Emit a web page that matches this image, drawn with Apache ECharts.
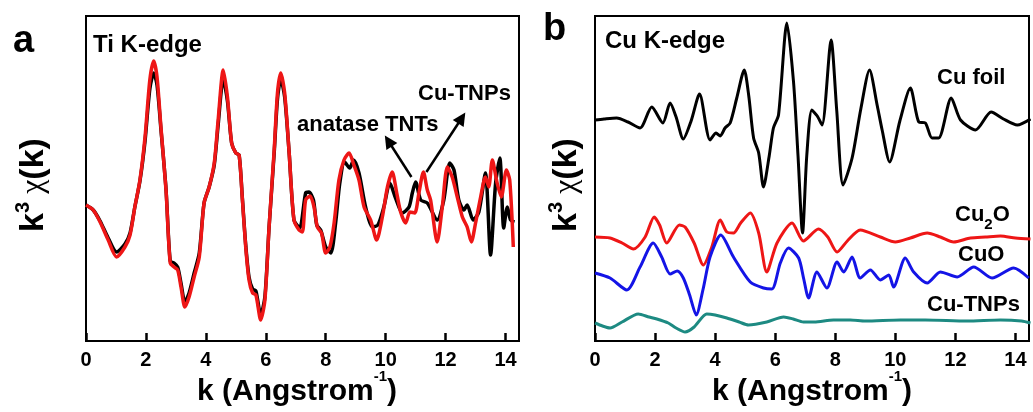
<!DOCTYPE html>
<html>
<head>
<meta charset="utf-8">
<script src="https://cdn.jsdelivr.net/npm/echarts@6.0.0/dist/echarts.min.js"></script>
<style>
html, body { margin: 0; padding: 0; background: #fff; }
#chart { width: 1033px; height: 412px; }
</style>
</head>
<body>
<div id="chart"></div>
<script>
// panel a: Ti K-edge, k3 chi(k) in arbitrary units
const tiTntK = [0, 0.24, 0.47, 0.74, 1.02, 1.3, 1.47, 1.63, 1.8, 1.97, 2.13, 2.26, 2.37, 2.5, 2.67, 2.81, 2.94, 3.06, 3.17, 3.3, 3.44, 3.61, 3.78, 3.94, 4.11, 4.28, 4.41, 4.58, 4.72, 4.86, 5.0, 5.11, 5.22, 5.33, 5.44, 5.56, 5.67, 5.83, 5.97, 6.11, 6.28, 6.39, 6.5, 6.63, 6.78, 6.94, 7.13, 7.33, 7.44, 7.59, 7.7, 7.83, 8.0, 8.17, 8.33, 8.47, 8.63, 8.8, 8.93, 9.11, 9.33, 9.56, 9.74, 9.94, 10.14, 10.33, 10.56, 10.78, 10.89, 11.0, 11.17, 11.39, 11.72, 11.94, 12.14, 12.28, 12.44, 12.61, 12.72, 12.92, 13.11, 13.33, 13.5, 13.67, 13.81, 13.94, 14.06, 14.17, 14.3]
const tiTntV = [136, 131, 120, 103, 89, 97, 108, 134, 160, 200, 252, 268, 256, 212, 152, 80, 78, 74, 58, 39, 48, 68, 88, 138, 154, 176, 216, 262, 240, 198, 188, 186, 142, 96, 64, 52, 50, 26, 44, 114, 188, 242, 262, 244, 188, 121, 113, 148, 149, 141, 116, 111, 94, 88, 118, 158, 179, 173, 181, 168, 134, 114, 116, 134, 158, 143, 128, 134, 148, 159, 141, 138, 121, 141, 178, 171, 141, 131, 136, 121, 129, 168, 86, 158, 183, 113, 134, 121, 119]

const tiCuK = [0, 0.24, 0.47, 0.74, 1.02, 1.3, 1.47, 1.63, 1.8, 1.97, 2.13, 2.26, 2.37, 2.5, 2.67, 2.81, 2.94, 3.06, 3.17, 3.3, 3.44, 3.61, 3.78, 3.94, 4.11, 4.28, 4.41, 4.58, 4.72, 4.86, 5.0, 5.11, 5.22, 5.33, 5.44, 5.56, 5.67, 5.83, 5.97, 6.11, 6.28, 6.39, 6.5, 6.63, 6.78, 6.94, 7.11, 7.22, 7.33, 7.48, 7.61, 7.72, 7.86, 8.0, 8.14, 8.28, 8.44, 8.61, 8.78, 8.94, 9.11, 9.28, 9.5, 9.7, 9.89, 10.06, 10.22, 10.37, 10.5, 10.67, 10.81, 10.97, 11.11, 11.26, 11.39, 11.5, 11.72, 11.89, 12.06, 12.22, 12.39, 12.56, 12.72, 12.86, 13.0, 13.17, 13.33, 13.44, 13.56, 13.72, 13.86, 14.03, 14.14, 14.26]
const tiCuV = [136, 131, 119, 101, 84, 94, 106, 134, 161, 204, 261, 280, 264, 214, 151, 78, 74, 71, 54, 34, 44, 64, 84, 138, 154, 178, 221, 271, 244, 198, 188, 186, 141, 94, 61, 48, 46, 21, 41, 114, 191, 248, 268, 248, 188, 121, 111, 109, 141, 145, 134, 114, 108, 88, 94, 118, 161, 181, 188, 176, 161, 134, 121, 101, 124, 154, 169, 148, 129, 118, 129, 128, 148, 169, 151, 141, 99, 134, 174, 164, 144, 124, 114, 99, 118, 144, 164, 154, 181, 158, 144, 171, 161, 94]

// panel b: Cu K-edge, curves offset vertically
const cuFoilK = [0, 0.3, 0.72, 1.1, 1.5, 1.89, 2.26, 2.5, 2.7, 2.94, 3.2, 3.48, 3.83, 4.03, 4.17, 4.33, 4.5, 4.72, 4.97, 5.12, 5.28, 5.45, 5.61, 5.8, 5.94, 6.11, 6.39, 6.61, 6.76, 6.91, 7.05, 7.22, 7.4, 7.56, 7.86, 8.05, 8.26, 8.56, 8.85, 9.14, 9.4, 9.56, 9.81, 10.15, 10.5, 10.78, 11.0, 11.22, 11.44, 11.86, 12.17, 12.67, 13.19, 13.6, 14.06, 14.5]
const cuFoilV = [221, 222, 223, 219, 213, 234, 218, 238, 224, 202, 220, 247, 201, 208, 205, 213, 218, 243, 271, 245, 203, 188, 154, 185, 213, 226, 318, 259, 185, 108, 185, 231, 225, 216, 301, 230, 156, 183, 232, 271, 235, 211, 179, 220, 253, 219, 218, 203, 203, 243, 221, 211, 229, 222, 216, 222]

const cu2oK = [0, 0.5, 0.9, 1.28, 1.67, 1.97, 2.15, 2.39, 2.81, 3.0, 3.3, 3.61, 3.89, 4.17, 4.39, 4.61, 4.85, 5.17, 5.45, 5.72, 6.06, 6.56, 6.94, 7.44, 7.75, 8.06, 8.4, 8.83, 9.5, 10.0, 10.5, 11.06, 11.5, 11.94, 12.5, 13.0, 13.5, 14.0, 14.5]
const cu2oV = [104, 103, 98, 92, 104, 124, 116, 98, 116, 114, 98, 76, 94, 121, 109, 108, 118, 128, 108, 69, 98, 118, 100, 112, 104, 89, 100, 111, 104, 99, 103, 108, 104, 99, 103, 104, 105, 103, 102]

const cuoK = [0, 0.5, 1.06, 1.5, 1.94, 2.22, 2.5, 2.74, 2.94, 3.15, 3.37, 3.6, 3.83, 4.19, 4.61, 5.17, 5.61, 5.89, 6.17, 6.44, 6.78, 6.95, 7.11, 7.39, 7.72, 8.06, 8.28, 8.56, 8.83, 9.17, 9.5, 9.78, 9.94, 10.33, 10.61, 11.06, 11.5, 12.06, 12.61, 13.22, 13.94, 14.44]
const cuoV = [68, 63, 51, 74, 98, 84, 67, 70, 63, 46, 26, 52, 84, 106, 84, 59, 53, 52, 78, 93, 83, 62, 43, 69, 53, 79, 69, 84, 63, 71, 61, 66, 54, 83, 69, 58, 69, 64, 74, 63, 73, 63]

const cuTnpK = [0, 0.25, 0.5, 0.9, 1.44, 1.8, 2.06, 2.44, 2.7, 3.0, 3.3, 3.72, 4.0, 4.39, 4.8, 5.11, 5.72, 6.28, 6.6, 6.94, 7.3, 7.94, 8.5, 9.0, 10.17, 11.0, 12.39, 13.5, 14.2, 14.5]
const cuTnpV = [18, 15, 13, 19, 27, 24, 22, 18, 13, 9, 14, 27, 26, 23, 19, 16, 19, 24, 22, 19, 19, 21, 21, 20, 21, 21, 20, 21, 20, 18]

const kTicks = { min: 0, max: 14.45, interval: 2 }
const FONT = "'Liberation Sans', Arial, sans-serif"

function pairs (ks, vs) {
  return ks.map((k, i) => [k, vs[i]])
}

function curve (idx, ks, vs, color, width) {
  return {
    type: 'line',
    xAxisIndex: idx,
    yAxisIndex: idx,
    data: pairs(ks, vs),
    smooth: 0.25,
    symbol: 'none',
    silent: true,
    lineStyle: { color: color, width: width }
  }
}

function kAxis (idx) {
  return {
    type: 'value',
    gridIndex: idx,
    min: kTicks.min,
    max: kTicks.max,
    interval: kTicks.interval,
    axisLine: { show: true, lineStyle: { color: '#000', width: 2 } },
    axisTick: { show: true, inside: true, length: 8, lineStyle: { color: '#000', width: 2.5 } },
    splitLine: { show: false },
    axisLabel: { color: '#000', fontSize: 20, fontWeight: 'bold', fontFamily: FONT, margin: 9 }
  }
}

function chiAxis (idx) {
  return {
    type: 'value',
    gridIndex: idx,
    min: 0,
    max: 325,
    axisLine: { show: false },
    axisTick: { show: false },
    axisLabel: { show: false },
    splitLine: { show: false }
  }
}

function label (text, x, y, size) {
  return {
    type: 'text',
    x: x,
    y: y,
    style: {
      text: text,
      fill: '#000',
      font: 'bold ' + size + 'px ' + FONT,
      textAlign: 'left',
      textVerticalAlign: 'middle'
    }
  }
}

const yTitleRich = {
  k: { fontSize: 34, fontWeight: 'bold', fontFamily: FONT, fill: '#000' },
  sup: { fontSize: 20, fontWeight: 'bold', fontFamily: FONT, fill: '#000', padding: [0, 0, 22, 0] },
  chi: { fontSize: 32, fontWeight: 'normal', fontFamily: "'Liberation Serif', serif", fill: '#000' }
}
const xTitleRich = {
  m: { fontSize: 30, fontWeight: 'bold', fontFamily: FONT, fill: '#000' },
  sup: { fontSize: 15, fontWeight: 'bold', fontFamily: FONT, fill: '#000', padding: [0, 0, 30, 0] }
}
const subRich = {
  m: { fontSize: 22, fontWeight: 'bold', fontFamily: FONT, fill: '#000' },
  sub: { fontSize: 15, fontWeight: 'bold', fontFamily: FONT, fill: '#000', padding: [20, 0, 0, 0] }
}

function richText (text, rich, x, y, align, rotation) {
  return {
    type: 'text',
    x: x,
    y: y,
    rotation: rotation || 0,
    style: { text: text, rich: rich, textAlign: align, textVerticalAlign: 'middle' }
  }
}

const myChart = echarts.init(document.getElementById('chart'), null, { renderer: 'canvas' })

const redA = curve(0, tiCuK, tiCuV, '#ee1616', 3.5)
// arrows pointing from the curves to their labels
redA.markLine = {
  silent: true,
  symbol: ['none', 'triangle'],
  symbolSize: 13,
  label: { show: false },
  lineStyle: { color: '#000', width: 2.5, type: 'solid' },
  data: [
    [{ coord: [10.86, 164] }, { coord: [10.09, 200] }],
    [{ coord: [11.36, 169] }, { coord: [12.54, 223] }]
  ]
}

const option = {
  animation: false,
  backgroundColor: '#fff',
  grid: [
    { left: 86, top: 16, width: 433, height: 325, show: true, borderColor: '#000', borderWidth: 2 },
    { left: 595, top: 16, width: 434, height: 325, show: true, borderColor: '#000', borderWidth: 2 }
  ],
  xAxis: [kAxis(0), kAxis(1)],
  yAxis: [chiAxis(0), chiAxis(1)],
  series: [
    curve(0, tiTntK, tiTntV, '#000', 3.5),
    redA,
    curve(1, cuFoilK, cuFoilV, '#000', 3),
    curve(1, cu2oK, cu2oV, '#ee1616', 3),
    curve(1, cuoK, cuoV, '#1414e6', 3),
    curve(1, cuTnpK, cuTnpV, '#1d8a82', 3)
  ],
  graphic: [
    label('a', 13, 42, 38),
    label('b', 543, 30, 38),
    label('Ti K-edge', 93, 45, 24),
    label('Cu K-edge', 605, 41, 24),
    label('anatase TNTs', 297, 125, 22),
    label('Cu-TNPs', 418, 94, 22),
    label('Cu foil', 937, 78, 22),
    richText('{m|Cu}{sub|2}{m|O}', subRich, 955, 215, 'left'),
    label('CuO', 958, 255, 22),
    label('Cu-TNPs', 927, 305, 22),
    richText('{k|k}{sup|3}{chi| χ}{k|(k)}', yTitleRich, 34, 185, 'center', Math.PI / 2),
    richText('{k|k}{sup|3}{chi| χ}{k|(k)}', yTitleRich, 567, 185, 'center', Math.PI / 2),
    richText('{m|k (Angstrom}{sup|-1}{m|)}', xTitleRich, 297, 392, 'center'),
    richText('{m|k (Angstrom}{sup|-1}{m|)}', xTitleRich, 812, 392, 'center')
  ]
}
myChart.setOption(option)
</script>
</body>
</html>
